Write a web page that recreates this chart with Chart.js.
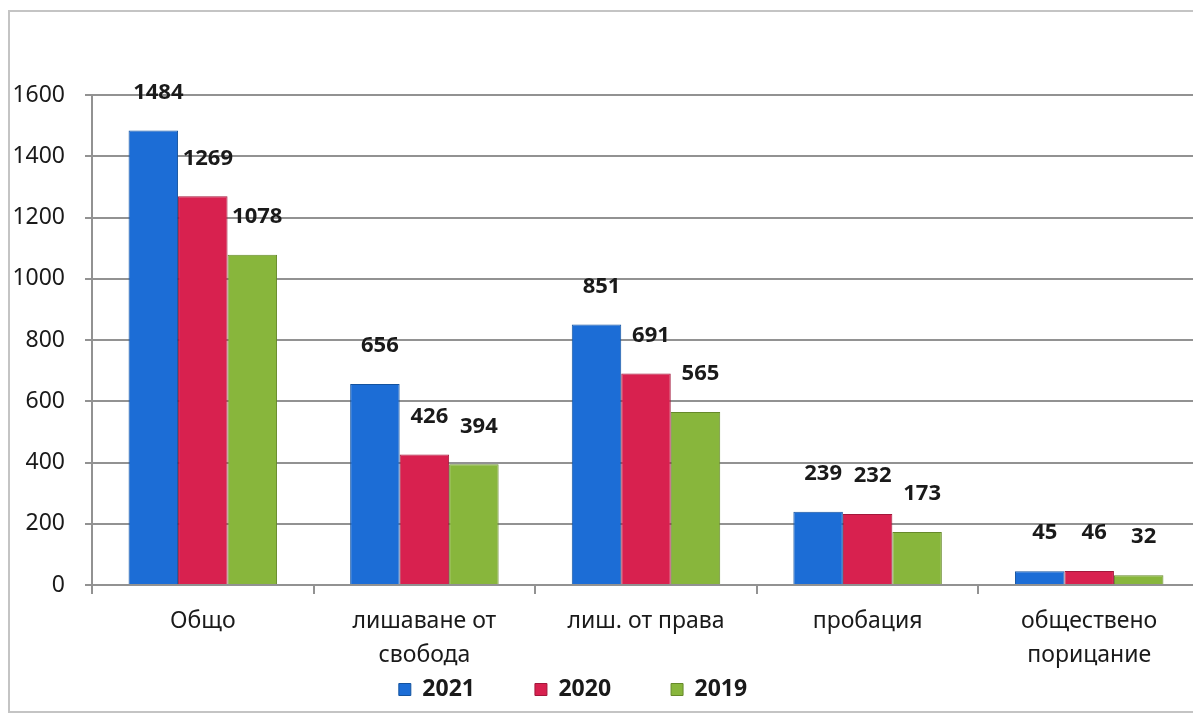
<!DOCTYPE html>
<html>
<head>
<meta charset="utf-8">
<script src="https://cdn.jsdelivr.net/npm/chart.js@4"></script>
<style>
  html, body { margin: 0; padding: 0; background: #fff; overflow: hidden; }
  #wrap { width: 1200px; height: 718px; }
</style>
</head>
<body>
<div id="wrap"><canvas id="grafika" width="1200" height="718"></canvas></div>
<script>
// данни от диаграмата
const kategorii = ['Общо', ['лишаване от', 'свобода'], 'лиш. от права', 'пробация', ['обществено', 'порицание']];
const godini = ['2021', '2020', '2019'];
const danni2021 = [1484, 656, 851, 239, 45];
const danni2020 = [1269, 426, 691, 232, 46];
const danni2019 = [1078, 394, 565, 173, 32];
const yMax = 1600;
const yStap = 200;

const cvetove = ['#1c6dd6', '#d8214f', '#88b63c'];
const ramki = ['#14539f', '#a3173b', '#66892a'];

Chart.defaults.font.family = "'Noto Sans', sans-serif";
Chart.defaults.color = '#1a1a1a';

const OSI_DUNO = 585;
const LEGENDA_VISOCHINA = 40;

// бял фон и рамка
const fon = {
  id: 'fon',
  beforeDraw(chart) {
    const c = chart.ctx;
    c.save();
    c.fillStyle = '#fff';
    c.fillRect(0, 0, chart.width, chart.height);
    c.strokeStyle = '#c4c4c4';
    c.lineWidth = 2;
    c.strokeRect(9, 11, chart.width + 20, 701);
    c.restore();
  }
};

// числата над колоните
const etiketi = {
  id: 'etiketi',
  afterDatasetsDraw(chart) {
    const c = chart.ctx;
    c.save();
    c.font = "bold 22px 'Noto Sans', sans-serif";
    c.fillStyle = '#1a1a1a';
    c.textAlign = 'center';
    c.textBaseline = 'middle';
    chart.data.datasets.forEach((ds, i) => {
      chart.getDatasetMeta(i).data.forEach((bar, j) => {
        c.fillText(ds.data[j], bar.x + 5, bar.y - 38);
      });
    });
    c.restore();
  }
};

// легендата: малко вляво от центъра и по-нагоре
const legendaMestene = {
  id: 'legendaMestene',
  afterUpdate(chart) {
    const lg = chart.legend;
    lg.left -= 27;
    lg.right -= 27;
    lg.top = 618;
    lg.bottom = chart.height;
    lg.height = lg.bottom - lg.top;
  }
};

new Chart(document.getElementById('grafika'), {
  type: 'bar',
  data: {
    labels: kategorii,
    datasets: [
      { label: godini[0], data: danni2021, backgroundColor: cvetove[0], borderColor: ramki[0], borderWidth: 1 },
      { label: godini[1], data: danni2020, backgroundColor: cvetove[1], borderColor: ramki[1], borderWidth: 1 },
      { label: godini[2], data: danni2019, backgroundColor: cvetove[2], borderColor: ramki[2], borderWidth: 1 }
    ]
  },
  options: {
    responsive: false,
    animation: false,
    layout: { padding: { top: 95, left: 0, right: 0, bottom: 0 } },
    datasets: { bar: { categoryPercentage: 0.67, barPercentage: 1.0 } },
    plugins: {
      tooltip: { enabled: false },
      legend: {
        position: 'bottom',
        maxHeight: LEGENDA_VISOCHINA,
        labels: {
          boxWidth: 12,
          boxHeight: 12,
          padding: 60,
          font: { size: 23, weight: 'bold' },
          color: '#1a1a1a'
        }
      }
    },
    scales: {
      x: {
        grid: { display: true, drawOnChartArea: false, drawTicks: true, tickLength: 9, color: '#929292', lineWidth: 2 },
        border: { color: '#929292', width: 2 },
        ticks: { font: { size: 23, lineHeight: 1.45 }, padding: 11, color: '#1a1a1a', maxRotation: 0 },
        afterFit(s) {
          s.height = s.chart.height - LEGENDA_VISOCHINA - OSI_DUNO;
        }
      },
      y: {
        min: 0,
        max: yMax,
        grid: { color: '#929292', lineWidth: 2, tickLength: 7 },
        border: { color: '#929292', width: 2 },
        ticks: { stepSize: yStap, font: { size: 23 }, padding: 20, color: '#1a1a1a', callback: (v) => String(v) },
        afterFit(s) { s.width = 92; }
      }
    }
  },
  plugins: [fon, etiketi, legendaMestene]
});
</script>
</body>
</html>
